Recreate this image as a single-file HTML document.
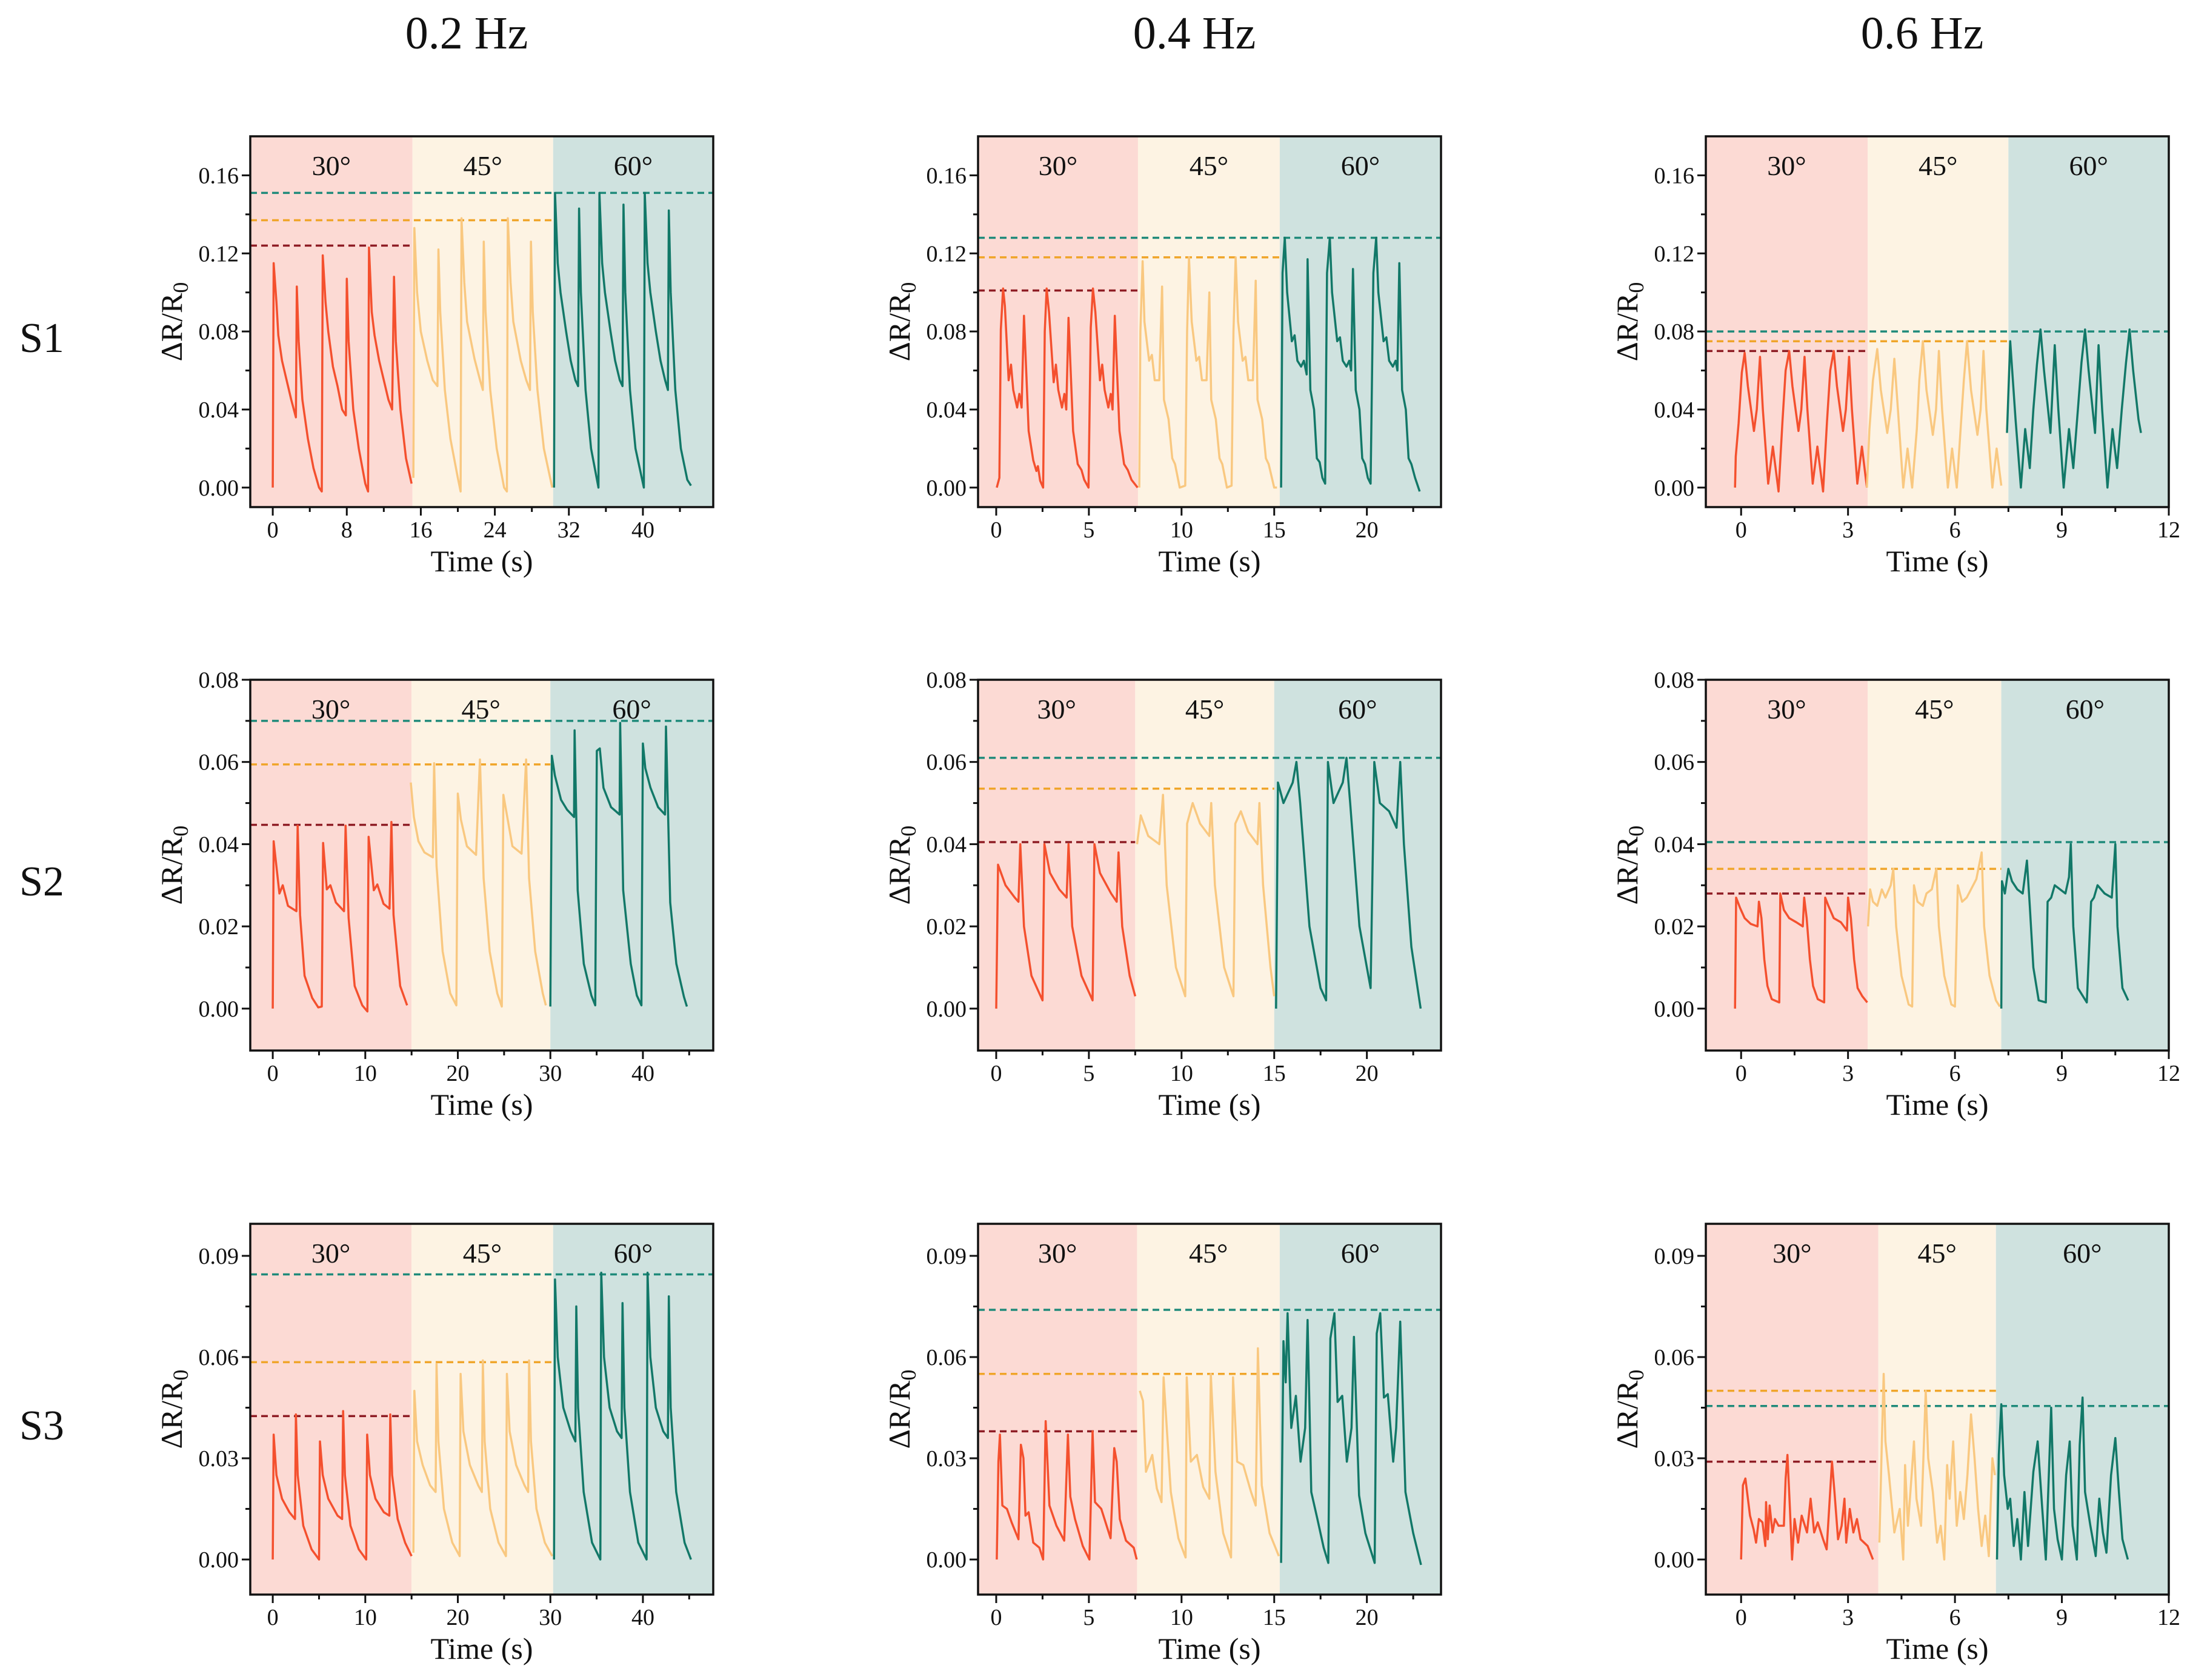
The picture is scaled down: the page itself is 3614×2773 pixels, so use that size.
<!DOCTYPE html>
<html><head><meta charset="utf-8">
<style>
html,body{margin:0;padding:0;background:#fff;}
svg{display:block;}
text{font-family:"Liberation Serif",serif;fill:#111;}
</style></head>
<body>
<svg id="fig" width="3614" height="2773" viewBox="0 0 3614 2773" xmlns="http://www.w3.org/2000/svg"></svg>
<script>
// ---------- DATA ----------
const colTitles = ["0.2 Hz","0.4 Hz","0.6 Hz"];
const rowTitles = ["S1","S2","S3"];
const angleLabels = ["30°","45°","60°"];

const xTicks02a = [0,8,16,24,32,40];
const xMinor02a = [4,12,20,28,36,44];
const xTicks02b = [0,10,20,30,40];
const xMinor02b = [5,15,25,35,45];
const xTicks04 = [0,5,10,15,20];
const xMinor04 = [2.5,7.5,12.5,17.5,22.5];
const xTicks06 = [0,3,6,9,12];
const xMinor06 = [1.5,4.5,7.5,10.5];
const yTicksS1 = [0,0.04,0.08,0.12,0.16];
const yLabelsS1 = ["0.00","0.04","0.08","0.12","0.16"];
const yMinorS1 = [0.02,0.06,0.10,0.14];
const yTicksS2 = [0,0.02,0.04,0.06,0.08];
const yLabelsS2 = ["0.00","0.02","0.04","0.06","0.08"];
const yMinorS2 = [0.01,0.03,0.05,0.07];
const yTicksS3 = [0,0.03,0.06,0.09];
const yLabelsS3 = ["0.00","0.03","0.06","0.09"];
const yMinorS3 = [0.015,0.045,0.075];

const p11_bands=[15.1,30.3], p11_levels=[0.124,0.137,0.151];
const p12_bands=[7.65,15.3], p12_levels=[0.101,0.118,0.128];
const p13_bands=[3.55,7.5], p13_levels=[0.070,0.075,0.080];
const p21_bands=[15.0,30.0], p21_levels=[0.0447,0.0594,0.070];
const p22_bands=[7.5,15.0], p22_levels=[0.0405,0.0535,0.061];
const p23_bands=[3.55,7.3], p23_levels=[0.028,0.034,0.0405];
const p31_bands=[15.0,30.3], p31_levels=[0.0425,0.0585,0.0845];
const p32_bands=[7.6,15.3], p32_levels=[0.038,0.055,0.074];
const p33_bands=[3.85,7.15], p33_levels=[0.029,0.050,0.0455];

const p11_red=[[0,0],[0.1,0.115],[0.4,0.095],[0.6,0.078],[1,0.065],[1.5,0.055],[2,0.045],[2.5,0.036],[2.6,0.103],[2.8,0.075],[3.2,0.045],[3.8,0.025],[4.4,0.01],[5,0],[5.3,-0.002],[5.4,0.119],[5.7,0.095],[6,0.08],[6.5,0.062],[7,0.052],[7.5,0.04],[7.9,0.037],[8,0.107],[8.2,0.075],[8.7,0.04],[9.3,0.02],[10,0.002],[10.3,-0.002],[10.4,0.123],[10.7,0.09],[11,0.078],[11.5,0.065],[12,0.055],[12.5,0.045],[12.9,0.04],[13.1,0.108],[13.3,0.075],[13.8,0.04],[14.4,0.015],[15,0.002]];
const p11_orange=[[15.2,0.005],[15.3,0.133],[15.6,0.1],[16,0.08],[16.7,0.065],[17.3,0.055],[17.8,0.052],[17.9,0.122],[18.1,0.09],[18.6,0.05],[19.2,0.025],[20,0.005],[20.3,-0.002],[20.4,0.138],[20.7,0.105],[21,0.085],[21.8,0.066],[22.4,0.055],[22.7,0.05],[22.8,0.126],[23,0.09],[23.5,0.05],[24.2,0.02],[25,0],[25.3,-0.002],[25.4,0.138],[25.7,0.105],[26,0.085],[26.8,0.065],[27.4,0.055],[27.8,0.05],[27.9,0.126],[28.1,0.09],[28.6,0.05],[29.3,0.02],[30.2,0]];
const p11_teal=[[30.4,0],[30.5,0.151],[30.8,0.115],[31.1,0.1],[31.7,0.08],[32.2,0.065],[32.7,0.055],[33.0,0.052],[33.1,0.143],[33.3,0.1],[33.8,0.05],[34.4,0.02],[35.2,0],[35.3,0.151],[35.6,0.115],[35.9,0.1],[36.5,0.08],[37,0.065],[37.5,0.055],[37.8,0.052],[37.9,0.145],[38.1,0.1],[38.6,0.05],[39.2,0.02],[40.1,0],[40.2,0.151],[40.5,0.115],[40.8,0.1],[41.4,0.08],[41.9,0.065],[42.4,0.055],[42.7,0.05],[42.8,0.142],[43,0.1],[43.5,0.05],[44.1,0.02],[44.8,0.004],[45.2,0.001]];
const p12_red=[[0.03,0],[0.17,0.005],[0.25,0.081],[0.37,0.102],[0.47,0.093],[0.67,0.055],[0.8,0.063],[0.92,0.05],[1.13,0.041],[1.25,0.048],[1.37,0.041],[1.5,0.088],[1.75,0.029],[2.0,0.014],[2.17,0.0085],[2.25,0.011],[2.37,0.0035],[2.53,0],[2.62,0.08],[2.72,0.102],[2.85,0.09],[3.1,0.054],[3.22,0.063],[3.35,0.05],[3.55,0.041],[3.68,0.048],[3.78,0.04],[3.9,0.087],[4.15,0.029],[4.4,0.012],[4.6,0.009],[4.75,0.004],[4.98,0],[5.1,0.082],[5.22,0.102],[5.35,0.09],[5.6,0.055],[5.72,0.063],[5.85,0.05],[6.05,0.041],[6.18,0.048],[6.28,0.04],[6.4,0.088],[6.65,0.029],[6.9,0.012],[7.1,0.009],[7.3,0.004],[7.63,0]];
const p12_orange=[[7.72,0],[7.78,0.08],[7.9,0.116],[8.0,0.085],[8.25,0.065],[8.4,0.068],[8.55,0.055],[8.8,0.055],[8.95,0.103],[9.05,0.045],[9.3,0.035],[9.5,0.015],[9.65,0.012],[9.9,0],[10.2,0.001],[10.3,0.08],[10.4,0.118],[10.55,0.085],[10.8,0.065],[10.95,0.067],[11.1,0.055],[11.35,0.055],[11.5,0.1],[11.6,0.045],[11.85,0.035],[12.05,0.015],[12.2,0.012],[12.45,0],[12.7,0.001],[12.8,0.08],[12.92,0.118],[13.05,0.085],[13.3,0.065],[13.45,0.067],[13.6,0.055],[13.85,0.055],[14.0,0.106],[14.1,0.045],[14.35,0.035],[14.55,0.015],[14.7,0.012],[15.0,0],[15.15,0]];
const p12_teal=[[15.37,0],[15.45,0.11],[15.57,0.128],[15.7,0.1],[15.95,0.075],[16.1,0.078],[16.25,0.065],[16.45,0.062],[16.6,0.065],[16.75,0.058],[16.8,0.117],[16.95,0.05],[17.15,0.04],[17.3,0.015],[17.45,0.013],[17.6,0.005],[17.75,0.002],[17.85,0.11],[18.0,0.128],[18.12,0.1],[18.4,0.075],[18.55,0.077],[18.7,0.065],[18.9,0.062],[19.05,0.065],[19.15,0.06],[19.25,0.112],[19.4,0.05],[19.6,0.04],[19.75,0.015],[19.9,0.012],[20.05,0.005],[20.2,0.002],[20.35,0.11],[20.5,0.128],[20.62,0.1],[20.9,0.075],[21.05,0.077],[21.2,0.065],[21.4,0.062],[21.55,0.065],[21.65,0.06],[21.75,0.115],[21.9,0.05],[22.1,0.04],[22.25,0.015],[22.4,0.012],[22.6,0.005],[22.85,-0.002]];
const p13_red=[[-0.17,0],[-0.15,0.016],[-0.07,0.033],[0.02,0.059],[0.1,0.069],[0.19,0.052],[0.36,0.029],[0.44,0.04],[0.53,0.067],[0.61,0.04],[0.76,0.002],[0.89,0.021],[1.05,-0.002],[1.16,0.034],[1.25,0.06],[1.35,0.07],[1.44,0.052],[1.61,0.029],[1.69,0.04],[1.78,0.067],[1.86,0.04],[2.01,0.002],[2.14,0.021],[2.3,-0.002],[2.41,0.034],[2.5,0.06],[2.6,0.07],[2.69,0.052],[2.86,0.029],[2.94,0.04],[3.03,0.067],[3.11,0.04],[3.26,0.002],[3.39,0.021],[3.53,0]];
const p13_orange=[[3.53,0],[3.6,0.03],[3.7,0.055],[3.82,0.071],[3.92,0.05],[4.1,0.028],[4.2,0.04],[4.3,0.066],[4.4,0.04],[4.55,0],[4.67,0.02],[4.8,0],[4.93,0.03],[5,0.055],[5.1,0.075],[5.2,0.05],[5.38,0.027],[5.47,0.04],[5.55,0.07],[5.64,0.04],[5.8,0],[5.92,0.02],[6.05,0],[6.17,0.033],[6.25,0.055],[6.34,0.075],[6.45,0.05],[6.63,0.027],[6.72,0.04],[6.8,0.07],[6.88,0.04],[7.05,0],[7.17,0.02],[7.3,0.001]];
const p13_teal=[[7.46,0.028],[7.55,0.075],[7.7,0.035],[7.85,0],[7.97,0.03],[8.1,0.01],[8.2,0.04],[8.3,0.063],[8.4,0.081],[8.5,0.06],[8.68,0.028],[8.8,0.073],[8.9,0.04],[9.05,0],[9.2,0.03],[9.32,0.01],[9.45,0.04],[9.55,0.064],[9.65,0.081],[9.75,0.06],[9.93,0.028],[10.03,0.073],[10.13,0.04],[10.28,0],[10.42,0.03],[10.55,0.01],[10.68,0.04],[10.8,0.064],[10.9,0.081],[11.0,0.06],[11.15,0.035],[11.22,0.028]];
const p21_red=[[0,0],[0.1,0.0407],[0.33,0.036],[0.72,0.028],[1.08,0.03],[1.64,0.025],[2.56,0.0237],[2.69,0.0445],[2.95,0.0228],[3.44,0.008],[4.26,0.0026],[4.92,0.0003],[5.3,0.0005],[5.44,0.0403],[5.84,0.029],[6.23,0.03],[6.82,0.0258],[7.7,0.0237],[7.87,0.0445],[8.2,0.022],[8.85,0.0055],[9.67,0.0008],[10.23,-0.0007],[10.36,0.0418],[10.92,0.0288],[11.3,0.0302],[11.97,0.0255],[12.62,0.0243],[12.82,0.0454],[13.05,0.0228],[13.77,0.0055],[14.52,0.0008]];
const p21_orange=[[14.92,0.055],[15.25,0.0466],[15.74,0.0407],[16.39,0.038],[17.3,0.0368],[17.44,0.0597],[17.7,0.0347],[18.36,0.0139],[19.18,0.0037],[19.84,0.0008],[20.0,0.0523],[20.33,0.046],[20.98,0.0395],[21.97,0.0374],[22.39,0.0606],[22.79,0.0317],[23.44,0.0139],[24.26,0.0037],[24.75,0.0005],[24.92,0.052],[25.25,0.0478],[25.9,0.0395],[26.89,0.0377],[27.38,0.0606],[27.7,0.0317],[28.36,0.0139],[29.18,0.0037],[29.51,0.0008]];
const p21_teal=[[30.0,0.0005],[30.16,0.0615],[30.49,0.0567],[31.15,0.0508],[31.8,0.0484],[32.56,0.0466],[32.62,0.0677],[32.95,0.0288],[33.61,0.0109],[34.43,0.0032],[34.85,0.0008],[35.02,0.0627],[35.34,0.0633],[35.74,0.0537],[36.56,0.049],[37.48,0.0472],[37.54,0.0695],[37.87,0.0288],[38.69,0.0109],[39.34,0.0032],[39.84,0.0008],[40.0,0.0645],[40.26,0.0585],[40.82,0.0537],[41.64,0.049],[42.39,0.0472],[42.49,0.0686],[42.95,0.0258],[43.61,0.0109],[44.43,0.0029],[44.75,0.0005]];
const p22_red=[[0,0],[0.1,0.035],[0.5,0.03],[1,0.027],[1.2,0.026],[1.3,0.04],[1.5,0.02],[1.9,0.008],[2.5,0.002],[2.6,0.04],[2.9,0.033],[3.4,0.029],[3.8,0.027],[3.9,0.04],[4.1,0.02],[4.6,0.008],[5.2,0.002],[5.3,0.04],[5.6,0.033],[6.2,0.028],[6.5,0.026],[6.6,0.038],[6.8,0.02],[7.2,0.008],[7.5,0.003]];
const p22_orange=[[7.6,0.04],[7.8,0.047],[8.2,0.042],[8.8,0.04],[9,0.052],[9.2,0.03],[9.7,0.01],[10.2,0.003],[10.3,0.045],[10.6,0.05],[11,0.045],[11.5,0.042],[11.6,0.05],[11.8,0.03],[12.3,0.01],[12.8,0.003],[12.9,0.045],[13.2,0.048],[13.6,0.043],[14.1,0.04],[14.2,0.05],[14.4,0.03],[14.8,0.01],[15.0,0.003]];
const p22_teal=[[15.1,0],[15.2,0.055],[15.5,0.05],[16,0.055],[16.2,0.06],[16.4,0.05],[16.9,0.02],[17.5,0.005],[17.8,0.002],[17.9,0.06],[18.2,0.05],[18.7,0.055],[18.9,0.061],[19.1,0.05],[19.6,0.02],[20.2,0.005],[20.4,0.06],[20.7,0.05],[21.2,0.048],[21.6,0.044],[21.8,0.06],[22,0.04],[22.4,0.015],[22.9,0]];
const p23_red=[[-0.17,0],[-0.14,0.027],[-0.03,0.0245],[0.1,0.022],[0.27,0.0206],[0.46,0.02],[0.5,0.026],[0.57,0.022],[0.65,0.012],[0.74,0.0055],[0.86,0.0023],[1.07,0.0015],[1.1,0.028],[1.2,0.024],[1.35,0.022],[1.55,0.021],[1.73,0.02],[1.77,0.027],[1.84,0.022],[1.93,0.012],[2.02,0.0055],[2.15,0.0023],[2.33,0.0015],[2.36,0.027],[2.45,0.025],[2.6,0.022],[2.8,0.021],[2.97,0.019],[3.0,0.027],[3.08,0.022],[3.17,0.012],[3.27,0.005],[3.4,0.003],[3.54,0.0015]];
const p23_orange=[[3.56,0.02],[3.62,0.029],[3.7,0.026],[3.82,0.025],[3.95,0.029],[4.05,0.027],[4.2,0.03],[4.27,0.034],[4.35,0.02],[4.5,0.008],[4.7,0.001],[4.8,0.0005],[4.85,0.03],[4.95,0.026],[5.1,0.025],[5.2,0.028],[5.35,0.029],[5.48,0.034],[5.55,0.02],[5.7,0.008],[5.9,0.001],[6.0,0.0005],[6.08,0.03],[6.2,0.026],[6.33,0.027],[6.45,0.029],[6.6,0.0315],[6.75,0.038],[6.82,0.02],[6.97,0.008],[7.15,0.002],[7.26,0.0005]];
const p23_teal=[[7.3,0],[7.32,0.031],[7.4,0.028],[7.5,0.034],[7.6,0.031],[7.75,0.029],[7.9,0.028],[8.02,0.036],[8.1,0.025],[8.2,0.01],[8.35,0.002],[8.55,0.0015],[8.6,0.026],[8.7,0.027],[8.8,0.03],[8.95,0.029],[9.1,0.028],[9.2,0.032],[9.25,0.04],[9.32,0.02],[9.45,0.005],[9.7,0.0015],[9.82,0.026],[9.9,0.027],[10.0,0.03],[10.2,0.028],[10.4,0.027],[10.5,0.04],[10.56,0.02],[10.7,0.005],[10.86,0.002]];
const p31_red=[[0,0],[0.1,0.037],[0.4,0.025],[1,0.018],[1.8,0.014],[2.4,0.012],[2.5,0.043],[2.7,0.025],[3.3,0.01],[4.2,0.003],[5,0],[5.1,0.035],[5.4,0.025],[6,0.018],[7,0.013],[7.5,0.012],[7.6,0.044],[7.8,0.025],[8.4,0.01],[9.3,0.003],[10.1,0],[10.2,0.037],[10.5,0.025],[11.1,0.018],[12,0.014],[12.6,0.013],[12.7,0.043],[12.9,0.025],[13.5,0.012],[14.3,0.005],[15,0.001]];
const p31_orange=[[15.2,0.002],[15.3,0.05],[15.6,0.035],[16.2,0.028],[17,0.022],[17.6,0.02],[17.7,0.058],[17.9,0.035],[18.5,0.015],[19.4,0.005],[20.2,0.001],[20.3,0.055],[20.6,0.038],[21.3,0.028],[22.2,0.022],[22.6,0.02],[22.7,0.059],[22.9,0.035],[23.5,0.015],[24.4,0.005],[25.2,0.001],[25.3,0.055],[25.6,0.038],[26.3,0.028],[27.2,0.022],[27.6,0.02],[27.7,0.059],[27.9,0.035],[28.5,0.015],[29.4,0.005],[30.2,0.001]];
const p31_teal=[[30.4,0],[30.5,0.083],[30.8,0.06],[31.4,0.045],[32.2,0.038],[32.7,0.035],[32.8,0.075],[33,0.045],[33.6,0.02],[34.5,0.005],[35.4,0],[35.5,0.085],[35.8,0.06],[36.4,0.045],[37.2,0.038],[37.7,0.036],[37.8,0.076],[38,0.045],[38.6,0.02],[39.5,0.005],[40.4,0],[40.5,0.085],[40.8,0.06],[41.4,0.045],[42.2,0.038],[42.7,0.036],[42.8,0.078],[43,0.045],[43.6,0.02],[44.5,0.005],[45.2,0]];
const p32_red=[[0.03,0],[0.12,0.029],[0.2,0.037],[0.33,0.016],[0.58,0.015],[0.83,0.011],[1.2,0.006],[1.33,0.034],[1.47,0.03],[1.58,0.013],[1.75,0.014],[2.0,0.005],[2.33,0.0035],[2.53,0],[2.67,0.041],[2.87,0.016],[3.25,0.01],[3.67,0.0056],[3.87,0.037],[4.0,0.0186],[4.25,0.012],[4.67,0.004],[5.03,0],[5.2,0.038],[5.33,0.017],[5.67,0.015],[6.17,0.0063],[6.37,0.033],[6.5,0.029],[6.67,0.012],[7.0,0.0056],[7.42,0.0035],[7.58,0]];
const p32_orange=[[7.75,0.05],[7.92,0.047],[8.08,0.026],[8.42,0.031],[8.67,0.021],[8.92,0.017],[9.03,0.054],[9.42,0.02],[9.83,0.0063],[10.22,0.0006],[10.28,0.054],[10.5,0.029],[10.83,0.031],[11.17,0.0215],[11.5,0.018],[11.58,0.055],[11.83,0.026],[12.25,0.0078],[12.67,0.0006],[12.78,0.054],[13.0,0.029],[13.33,0.028],[13.75,0.02],[14.0,0.016],[14.12,0.0626],[14.33,0.022],[14.75,0.0078],[15.25,0.001]];
const p32_teal=[[15.37,-0.001],[15.5,0.0647],[15.62,0.0525],[15.72,0.073],[15.92,0.039],[16.17,0.0485],[16.42,0.029],[16.67,0.039],[16.8,0.071],[17.0,0.02],[17.33,0.012],[17.67,0.0035],[17.92,-0.001],[18.03,0.0655],[18.25,0.073],[18.42,0.0467],[18.67,0.0485],[18.92,0.029],[19.17,0.039],[19.3,0.066],[19.58,0.019],[19.92,0.0078],[20.42,-0.001],[20.53,0.067],[20.72,0.073],[20.92,0.048],[21.13,0.049],[21.42,0.029],[21.58,0.039],[21.8,0.0705],[22.08,0.02],[22.5,0.0078],[22.92,-0.0016]];
const p33_red=[[0,0],[0.05,0.022],[0.12,0.024],[0.25,0.013],[0.35,0.009],[0.42,0.005],[0.5,0.012],[0.6,0.011],[0.68,0.004],[0.7,0.017],[0.75,0.006],[0.8,0.016],[0.88,0.008],[0.95,0.012],[1.05,0.01],[1.2,0.01],[1.25,0.024],[1.3,0.031],[1.37,0.015],[1.43,0],[1.5,0.012],[1.6,0.005],[1.7,0.013],[1.85,0.008],[1.95,0.018],[2.05,0.008],[2.15,0.011],[2.3,0.006],[2.4,0.003],[2.55,0.029],[2.62,0.02],[2.72,0.006],[2.82,0.01],[2.9,0.018],[2.95,0.005],[3.05,0.015],[3.15,0.008],[3.25,0.012],[3.35,0.006],[3.45,0.005],[3.55,0.004],[3.7,0]];
const p33_orange=[[3.88,0.005],[3.95,0.035],[4.0,0.055],[4.05,0.035],[4.15,0.025],[4.3,0.008],[4.45,0.015],[4.55,0],[4.6,0.028],[4.68,0.01],[4.75,0.02],[4.85,0.035],[4.92,0.018],[5.05,0.01],[5.18,0.05],[5.25,0.03],[5.38,0.02],[5.5,0.005],[5.6,0.01],[5.7,0],[5.78,0.028],[5.85,0.018],[5.95,0.035],[6.05,0.01],[6.15,0.02],[6.25,0.012],[6.35,0.025],[6.45,0.043],[6.55,0.03],[6.65,0.015],[6.75,0.004],[6.85,0.013],[6.95,0.001],[7.05,0.03],[7.12,0.025]];
const p33_teal=[[7.18,0],[7.23,0.031],[7.3,0.046],[7.38,0.025],[7.48,0.015],[7.55,0.018],[7.65,0.004],[7.75,0.012],[7.85,0],[7.95,0.02],[8.05,0.004],[8.2,0.026],[8.32,0.035],[8.45,0.015],[8.55,0],[8.65,0.03],[8.7,0.045],[8.78,0.015],[8.88,0.006],[9.0,0],[9.12,0.025],[9.22,0.035],[9.3,0.01],[9.42,0],[9.5,0.034],[9.58,0.048],[9.65,0.02],[9.8,0.01],[9.95,0.001],[10.05,0.018],[10.15,0.008],[10.25,0.002],[10.38,0.025],[10.5,0.036],[10.6,0.02],[10.7,0.006],[10.85,0]];

// ---------- LAYOUT ----------
const NS="http://www.w3.org/2000/svg";
const svg=document.getElementById('fig');
const COLX=[413,1614,2815], ROWY=[225,1122,2020], PW=764, PH=612;
const XR=[[-2.43,47.6],[-0.98,24.0],[-0.99,12.0]];
const YR=[[-0.01,0.18],[-0.0102,0.08],[-0.0104,0.0995]];
const BAND_FILL=["#fcdad4","#fdf3e3","#cfe2df"];
const LINE_COL=["#f4502e","#f9c880","#127868"];
const DASH_COL=["#8e1c24","#f0a52a","#1f8a7a"];

function el(tag,attrs,parent){const e=document.createElementNS(NS,tag);for(const k in attrs)e.setAttribute(k,attrs[k]);(parent||svg).appendChild(e);return e;}

const panels=[
 {r:0,c:0,xt:xTicks02a,xm:xMinor02a,yt:yTicksS1,yl:yLabelsS1,ym:yMinorS1,b:p11_bands,lv:p11_levels,s:[p11_red,p11_orange,p11_teal]},
 {r:0,c:1,xt:xTicks04,xm:xMinor04,yt:yTicksS1,yl:yLabelsS1,ym:yMinorS1,b:p12_bands,lv:p12_levels,s:[p12_red,p12_orange,p12_teal]},
 {r:0,c:2,xt:xTicks06,xm:xMinor06,yt:yTicksS1,yl:yLabelsS1,ym:yMinorS1,b:p13_bands,lv:p13_levels,s:[p13_red,p13_orange,p13_teal]},
 {r:1,c:0,xt:xTicks02b,xm:xMinor02b,yt:yTicksS2,yl:yLabelsS2,ym:yMinorS2,b:p21_bands,lv:p21_levels,s:[p21_red,p21_orange,p21_teal]},
 {r:1,c:1,xt:xTicks04,xm:xMinor04,yt:yTicksS2,yl:yLabelsS2,ym:yMinorS2,b:p22_bands,lv:p22_levels,s:[p22_red,p22_orange,p22_teal]},
 {r:1,c:2,xt:xTicks06,xm:xMinor06,yt:yTicksS2,yl:yLabelsS2,ym:yMinorS2,b:p23_bands,lv:p23_levels,s:[p23_red,p23_orange,p23_teal]},
 {r:2,c:0,xt:xTicks02b,xm:xMinor02b,yt:yTicksS3,yl:yLabelsS3,ym:yMinorS3,b:p31_bands,lv:p31_levels,s:[p31_red,p31_orange,p31_teal]},
 {r:2,c:1,xt:xTicks04,xm:xMinor04,yt:yTicksS3,yl:yLabelsS3,ym:yMinorS3,b:p32_bands,lv:p32_levels,s:[p32_red,p32_orange,p32_teal]},
 {r:2,c:2,xt:xTicks06,xm:xMinor06,yt:yTicksS3,yl:yLabelsS3,ym:yMinorS3,b:p33_bands,lv:p33_levels,s:[p33_red,p33_orange,p33_teal]}
];
const segNames=["30deg","45deg","60deg"];

colTitles.forEach((t,i)=>{
 const e=el('text',{x:COLX[i]+357,y:80,'font-size':76,'text-anchor':'middle'});e.textContent=t;
 
 
});
rowTitles.forEach((t,i)=>{
 const e=el('text',{x:32,y:ROWY[i]+356,'font-size':70});e.textContent=t;
 
 
});

panels.forEach((p,pi)=>{
 const X=COLX[p.c],Y=ROWY[p.r],[x0,x1]=XR[p.c],[y0,y1]=YR[p.r];
 const sx=t=>X+(t-x0)/(x1-x0)*PW, sy=v=>Y+PH-(v-y0)/(y1-y0)*PH;
 const g=el('g',{});
 
 
 const cid='clip'+pi;
 const defs=el('defs',{},g);const cp=el('clipPath',{id:cid},defs);el('rect',{x:X,y:Y,width:PW,height:PH},cp);
 const edges=[X,sx(p.b[0]),sx(p.b[1]),X+PW];
 for(let i=0;i<3;i++){
  const r=el('rect',{x:edges[i],y:Y,width:edges[i+1]-edges[i],height:PH,fill:BAND_FILL[i]},g);
  
  
  const t=el('text',{x:(edges[i]+edges[i+1])/2,y:Y+64,'font-size':46,'text-anchor':'middle'},g);t.textContent=angleLabels[i];
  
  
 }
 for(let i=0;i<3;i++){
  const l=el('line',{x1:X,x2:edges[i+1],y1:sy(p.lv[i]),y2:sy(p.lv[i]),stroke:DASH_COL[i],'stroke-width':3.5,'stroke-dasharray':'11 7'},g);
  
  
 }
 p.s.forEach((arr,i)=>{
  const d=arr.map((pt,k)=>(k?'L':'M')+sx(pt[0]).toFixed(1)+' '+sy(pt[1]).toFixed(1)).join(' ');
  const path=el('path',{d:d,fill:'none',stroke:LINE_COL[i],'stroke-width':3.5,'stroke-linejoin':'round','clip-path':'url(#'+cid+')'},g);
  
  
 });
 const fr=el('rect',{x:X,y:Y,width:PW,height:PH,fill:'none',stroke:'#111','stroke-width':3.5},g);
 
 
 p.xt.forEach(t=>{
  el('line',{x1:sx(t),x2:sx(t),y1:Y+PH,y2:Y+PH+14,stroke:'#111','stroke-width':3},g);
  const tx=el('text',{x:sx(t),y:Y+PH+50,'font-size':38,'text-anchor':'middle'},g);tx.textContent=t;
  
  
 });
 p.xm.forEach(t=>{el('line',{x1:sx(t),x2:sx(t),y1:Y+PH,y2:Y+PH+8,stroke:'#111','stroke-width':3},g);});
 p.yt.forEach((v,k)=>{
  el('line',{x1:X-14,x2:X,y1:sy(v),y2:sy(v),stroke:'#111','stroke-width':3},g);
  const ty=el('text',{x:X-19,y:sy(v)+13,'font-size':38,'text-anchor':'end'},g);ty.textContent=p.yl[k];
  
  
 });
 p.ym.forEach(v=>{el('line',{x1:X-8,x2:X,y1:sy(v),y2:sy(v),stroke:'#111','stroke-width':3},g);});
 const xl=el('text',{x:X+PW/2,y:Y+PH+106,'font-size':50,'text-anchor':'middle'},g);xl.textContent='Time (s)';
 
 
 const cx=X-113,cy=Y+PH/2;
 const yl=el('text',{x:cx,y:cy,'font-size':50,'text-anchor':'middle',transform:'rotate(-90 '+cx+' '+cy+')'},g);
 yl.innerHTML='ΔR/R<tspan font-size="36" dy="10">0</tspan>';
 
 
});
</script>
</body></html>
